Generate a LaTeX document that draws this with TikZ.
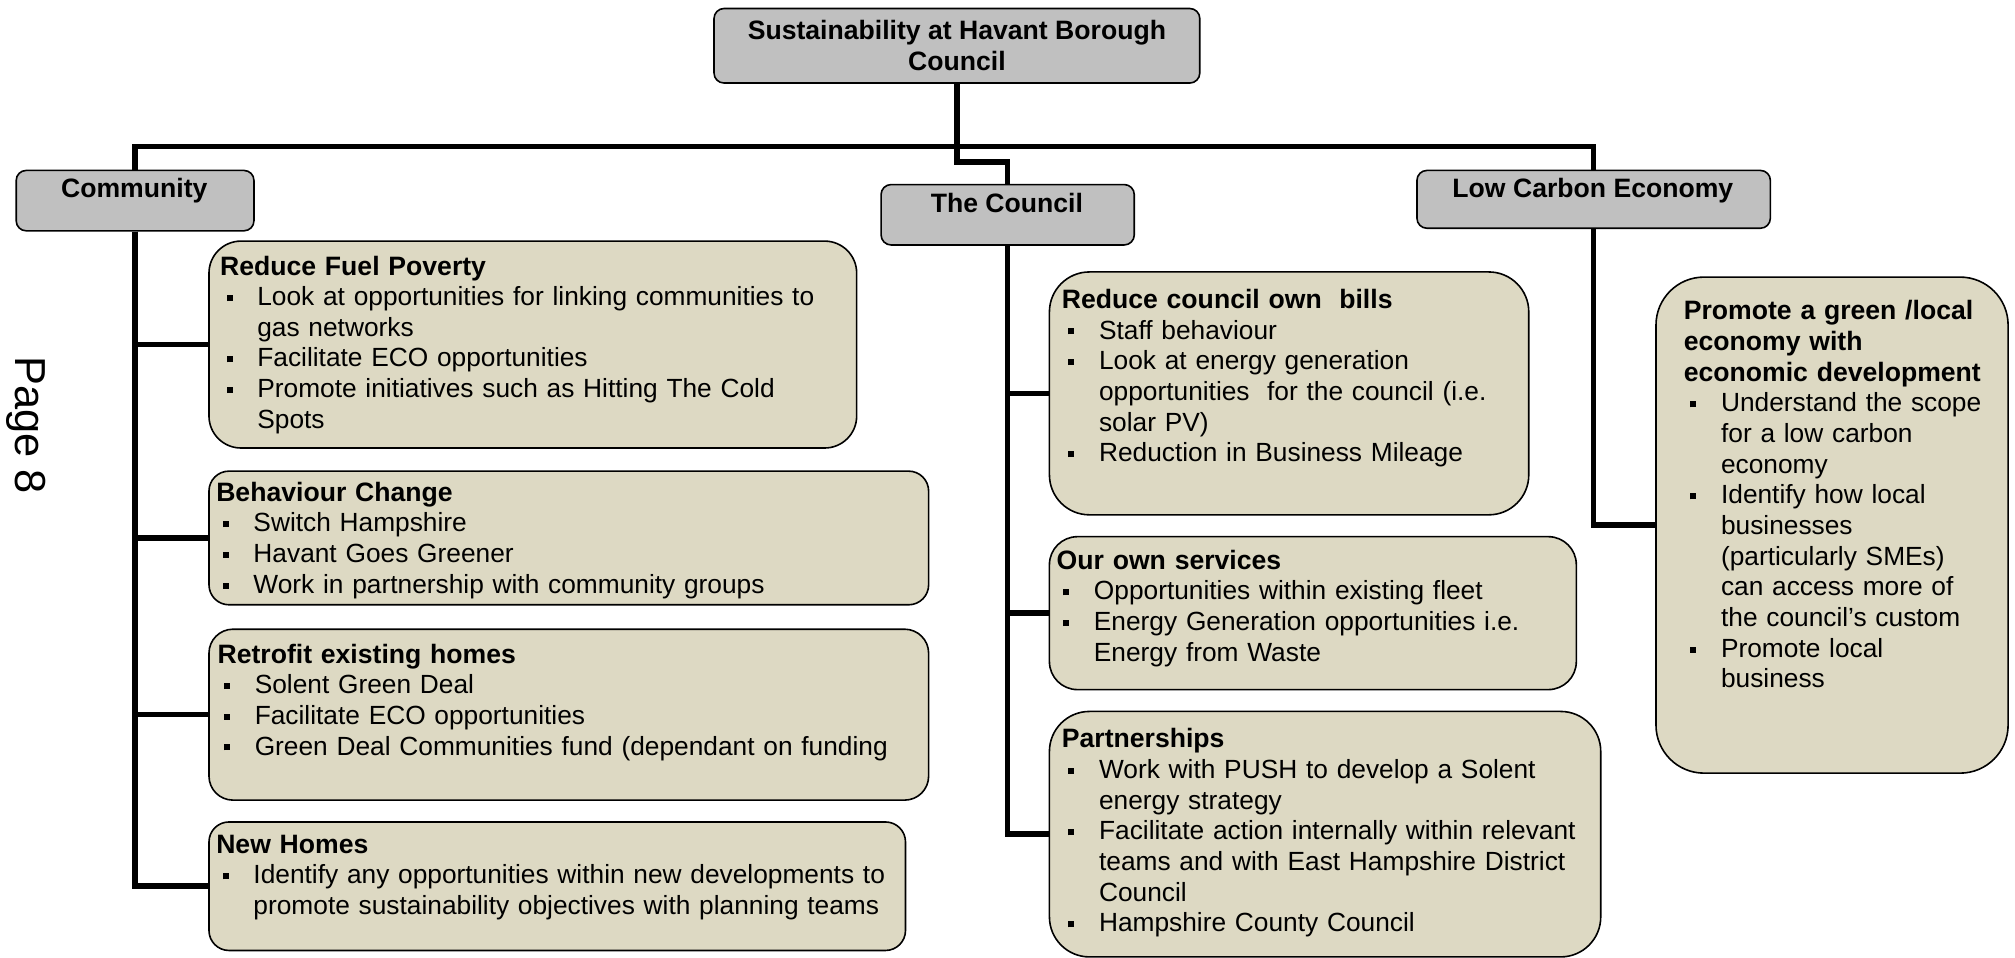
\documentclass[tikz,border=0pt]{standalone}
\usepackage{fontspec}
\setmainfont{Liberation Sans}
\usetikzlibrary{calc}

\newcommand\pxu{0.6426pt}
\definecolor{hdrgray}{HTML}{C0C0C0}
\definecolor{boxtan}{HTML}{DDD9C3}

% bullet marker and continuation indent for the item lists
\newcommand\bul{\makebox[18.6pt][l]{\hspace{3.2pt}\rule[2.3pt]{3pt}{3pt}}}
\newcommand\ind{\hspace*{18.6pt}}

\tikzset{
  wh/.style 2 args={minimum width=#1*\pxu, minimum height=#2*\pxu},
  hdr/.style={draw, line width=0.8pt, fill=hdrgray, rounded corners=5pt,
    anchor=north west, inner sep=0pt},
  item/.style={draw, line width=0.8pt, fill=boxtan, anchor=north west, inner sep=0pt},
  txt/.style={anchor=base west, inner sep=0pt, text width=420pt, align=left,
    font=\fontsize{13.15}{15.33}\selectfont},
  htxt/.style={anchor=base, inner sep=0pt, font=\bfseries\fontsize{13.3}{15.33}\selectfont},
  conn/.style={line width=2.8pt}
}
\newcommand\ttl[1]{{\bfseries\fontsize{13.3}{15.33}\selectfont #1}}

\begin{document}
\begin{tikzpicture}[x=\pxu, y=-\pxu]
\useasboundingbox[fill=white] (0,0) rectangle (1568,745);

% page number
\node[rotate=-90, inner sep=0pt, font=\fontsize{21.7}{26}\selectfont] (pg) at (20,331) {Page 8};

% top box and the three headings
\node[hdr, wh={378}{58}, align=center, font=\bfseries\fontsize{13.3}{15.33}\selectfont]
  (top) at (555,6) {Sustainability at Havant Borough\\Council};
\node[hdr, wh={185}{47}] (comm) at (12,132) {};
\node[htxt] (comm-t) at (104.5,154) {Community};
\node[hdr, wh={197}{47}] (council) at (685,143) {};
\node[htxt] (council-t) at (783.5,165) {The Council};
\node[hdr, wh={275}{45}] (lce) at (1102,132) {};
\node[htxt] (lce-t) at (1239.5,154) {Low Carbon Economy};

% community boxes
\node[item, rounded corners=16pt, wh={504}{161}] (rfp) at (162,187) {};
\node[txt] (rfp-t) at (171,214) {\ttl{Reduce Fuel Poverty}\\
\bul Look at opportunities for linking communities to\\
\ind gas networks\\
\bul Facilitate ECO opportunities\\
\bul Promote initiatives such as Hitting The Cold\\
\ind Spots};

\node[item, rounded corners=10pt, wh={560}{104}] (bc) at (162,366) {};
\node[txt] (bc-t) at (168,390) {\ttl{Behaviour Change}\\
\bul Switch Hampshire\\
\bul Havant Goes Greener\\
\bul Work in partnership with community groups};

\node[item, rounded corners=12pt, wh={560}{133}] (ret) at (162,489) {};
\node[txt] (ret-t) at (169,516) {\ttl{Retrofit existing homes}\\
\bul Solent Green Deal\\
\bul Facilitate ECO opportunities\\
\bul Green Deal Communities fund (dependant on funding};

\node[item, rounded corners=10pt, wh={542}{100}] (nh) at (162,639) {};
\node[txt] (nh-t) at (168,664) {\ttl{New Homes}\\
\bul Identify any opportunities within new developments to\\
\ind promote sustainability objectives with planning teams};

% council boxes
\node[item, rounded corners=20pt, wh={373}{189}] (rcb) at (816,211) {};
\node[txt] (rcb-t) at (826,240) {\ttl{Reduce council own\ \ bills}\\
\bul Staff behaviour\\
\bul Look at energy generation\\
\ind opportunities\ \ for the council (i.e.\\
\ind solar PV)\\
\bul Reduction in Business Mileage};

\node[item, rounded corners=14pt, wh={410}{119}] (oos) at (816,417) {};
\node[txt] (oos-t) at (822,443) {\ttl{Our own services}\\
\bul Opportunities within existing fleet\\
\bul Energy Generation opportunities i.e.\\
\ind Energy from Waste};

\node[item, rounded corners=20pt, wh={429}{191}] (part) at (816,553) {};
\node[txt] (part-t) at (826,582) {\ttl{Partnerships}\\
\bul Work with PUSH to develop a Solent\\
\ind energy strategy\\
\bul Facilitate action internally within relevant\\
\ind teams and with East Hampshire District\\
\ind Council\\
\bul Hampshire County Council};

% low carbon economy box
\node[item, rounded corners=24pt, wh={274}{386}] (green) at (1288,215) {};
\node[txt] (green-t) at (1310,249) {\ttl{Promote a green /local}\\
\ttl{economy with}\\
\ttl{economic development}\\
\bul Understand the scope\\
\ind for a low carbon\\
\ind economy\\
\bul Identify how local\\
\ind businesses\\
\ind (particularly SMEs)\\
\ind can access more of\\
\ind the council’s custom\\
\bul Promote local\\
\ind business};

% connectors
\coordinate (bus) at (top.south |- 0,114);
\coordinate (jog) at (top.south |- 0,126);
\draw[conn] (top.south) -- (bus);
\draw[conn] (comm.north) |- (bus) -| (lce.north);
\draw[conn] (bus) -- (jog) -| (council.north);

\draw[conn] (comm.south) |- (rfp.west);
\draw[conn] (comm.south) |- (bc.west);
\draw[conn] (comm.south) |- (ret.west);
\draw[conn] (comm.south) |- (nh.west);

\draw[conn] (council.south) |- (rcb.west);
\draw[conn] (council.south) |- (oos.west);
\draw[conn] (council.south) |- (part.west);

\draw[conn] (lce.south) |- (green.west);
\end{tikzpicture}
\end{document}
